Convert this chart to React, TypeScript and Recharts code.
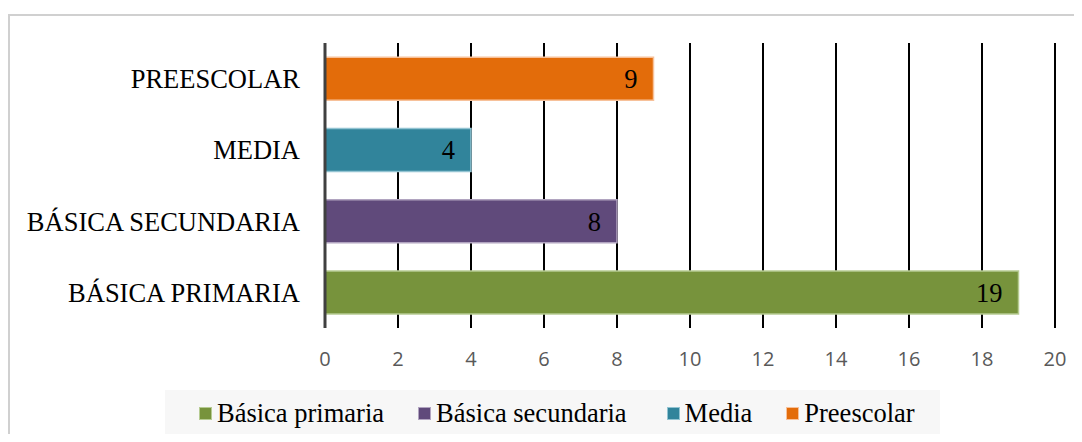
import React from "react";
import { BarChart, Bar, XAxis, YAxis, CartesianGrid, Cell, LabelList, Legend } from "recharts";

const categories = ["PREESCOLAR", "MEDIA", "BÁSICA SECUNDARIA", "BÁSICA PRIMARIA"];
const values = [9, 4, 8, 19];
const colors = ["#E36C0A", "#31849B", "#604A7B", "#77933C"];
const strokes = ["#F7C19A", "#93C4D2", "#B1A4C0", "#B6CB92"];
const legendLabels = ["Básica primaria", "Básica secundaria", "Media", "Preescolar"];
const legendColors = ["#77933C", "#604A7B", "#31849B", "#E36C0A"];
const legendStrokes = ["#B6CB92", "#B1A4C0", "#93C4D2", "#F7C19A"];
const xTicks = [0, 2, 4, 6, 8, 10, 12, 14, 16, 18, 20];

const data = categories.map((c, i) => ({ name: c, value: values[i] }));

const SERIF = '"Liberation Serif", "Times New Roman", serif';
const legendGaps = [34, 40, 34, 0];

const renderLegend = () => (
  <div
    style={{
      background: "#F7F7F7",
      width: 775,
      height: 46,
      display: "flex",
      flexWrap: "nowrap",
      alignItems: "center",
      paddingLeft: 34,
      boxSizing: "border-box",
      fontFamily: SERIF,
      fontSize: 26.5,
      lineHeight: "30px",
      color: "#000",
      whiteSpace: "nowrap",
    }}
  >
    {legendLabels.map((l, i) => (
      <div
        key={l}
        style={{
          display: "flex",
          alignItems: "center",
          marginRight: legendGaps[i],
          flexShrink: 0,
          whiteSpace: "nowrap",
        }}
      >
        <span
          style={{
            display: "inline-block",
            width: 11,
            height: 11,
            background: legendColors[i],
            border: `1px solid ${legendStrokes[i]}`,
            marginRight: 5,
            flexShrink: 0,
          }}
        />
        <span style={{ whiteSpace: "nowrap" }}>{l}</span>
      </div>
    ))}
  </div>
);

export default function App() {
  return (
    <div style={{ position: "relative", width: 1066, height: 426 }}>
      <div
        style={{
          position: "absolute",
          left: 0,
          top: 6,
          width: 1090,
          height: 440,
          border: "2px solid #D0D0D0",
          boxSizing: "border-box",
        }}
      />
      <div style={{ position: "absolute", left: -8, top: -8 }}>
        <BarChart
          width={1082}
          height={442}
          layout="vertical"
          data={data}
          margin={{ top: 43, right: 27, bottom: 64, left: 0 }}
          barCategoryGap="20%"
        >
          <CartesianGrid horizontal={false} vertical={true} stroke="#000" strokeWidth={2} />
          <XAxis
            type="number"
            domain={[0, 20]}
            ticks={xTicks}
            interval={0}
            axisLine={false}
            tickLine={false}
            tickSize={0}
            tickMargin={24}
            height={50}
            tick={{ fill: "#595959", fontSize: 20, fontFamily: '"Open Sans", sans-serif' }}
          />
          <YAxis
            type="category"
            dataKey="name"
            width={325}
            axisLine={{ stroke: "#404040", strokeWidth: 3 }}
            tickLine={false}
            tickSize={0}
            tickMargin={25}
            tick={{ fill: "#000", fontSize: 26.5, fontFamily: SERIF }}
          />
          <Bar dataKey="value" isAnimationActive={false} strokeWidth={1.5}>
            {data.map((d, i) => (
              <Cell key={d.name} fill={colors[i]} stroke={strokes[i]} />
            ))}
            <LabelList
              dataKey="value"
              position="insideRight"
              offset={16}
              style={{ fill: "#000", fontSize: 26.5, fontFamily: SERIF }}
            />
          </Bar>
          <Legend
            layout="horizontal"
            verticalAlign="middle"
            align="center"
            content={renderLegend}
            wrapperStyle={{ left: 165, top: 390, width: 775, height: 46 }}
          />
        </BarChart>
      </div>
    </div>
  );
}
